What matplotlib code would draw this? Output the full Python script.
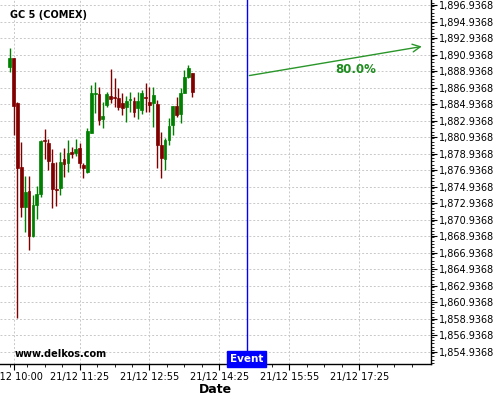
import numpy as np
import pandas as pd
import matplotlib
matplotlib.use('Agg')
from matplotlib import pyplot as plt
import matplotlib.dates as mdates
from matplotlib.ticker import FuncFormatter, MultipleLocator

# 5 minute candles, GC 5 (COMEX), 21/12
start = pd.Timestamp('2020-12-21 09:55')
opens  = [1889.47, 1890.49, 1885.04, 1877.36, 1872.52, 1874.42, 1869.01, 1872.73, 1874.02, 1880.54,
          1880.20, 1877.78, 1874.61, 1874.75, 1878.30, 1877.78, 1879.11, 1878.99, 1879.59, 1877.57,
          1876.76, 1881.48, 1886.19, 1886.16, 1883.10, 1884.83, 1885.92, 1885.84, 1885.64, 1885.11,
          1884.63, 1885.38, 1885.32, 1884.47, 1884.23, 1885.80, 1885.23, 1885.04, 1884.92, 1879.99,
          1878.26, 1880.60, 1882.41, 1884.71, 1883.74, 1886.32, 1888.26, 1888.67]
closes = [1890.49, 1884.75, 1877.17, 1872.52, 1874.30, 1869.01, 1872.73, 1874.06, 1880.48, 1880.42,
          1878.09, 1874.63, 1874.49, 1877.97, 1877.66, 1878.99, 1878.90, 1879.51, 1877.78, 1877.17,
          1881.72, 1886.25, 1886.29, 1883.02, 1883.50, 1886.16, 1885.52, 1885.64, 1884.63, 1884.51,
          1885.32, 1885.50, 1884.02, 1885.32, 1886.25, 1885.70, 1884.83, 1886.04, 1879.99, 1878.38,
          1880.60, 1882.29, 1884.71, 1883.62, 1886.32, 1888.19, 1889.27, 1886.44]
highs  = [1891.70, 1890.52, 1885.24, 1880.39, 1876.24, 1876.24, 1873.94, 1875.03, 1880.60, 1881.89,
          1880.66, 1879.47, 1877.97, 1879.18, 1879.59, 1880.60, 1879.71, 1880.68, 1880.20, 1877.78,
          1882.01, 1887.25, 1887.58, 1887.05, 1885.23, 1886.44, 1889.15, 1888.06, 1886.85, 1886.25,
          1885.92, 1886.37, 1885.84, 1886.44, 1886.65, 1887.46, 1887.05, 1887.05, 1885.44, 1881.60,
          1880.80, 1883.22, 1884.71, 1885.76, 1886.85, 1889.07, 1889.67, 1888.74]
lows   = [1888.79, 1881.20, 1859.05, 1871.31, 1869.50, 1867.28, 1868.89, 1871.03, 1873.73, 1878.26,
          1876.91, 1872.33, 1872.61, 1873.94, 1876.15, 1876.76, 1878.38, 1878.66, 1877.17, 1875.96,
          1876.64, 1881.41, 1883.90, 1882.41, 1882.01, 1884.63, 1885.04, 1884.63, 1884.23, 1883.62,
          1882.81, 1884.02, 1883.42, 1883.10, 1883.74, 1884.02, 1884.02, 1882.21, 1877.17, 1875.96,
          1876.97, 1879.99, 1881.20, 1883.42, 1882.62, 1886.25, 1888.06, 1885.84]

event_time = pd.Timestamp('2020-12-21 15:00')
arrow_start = (event_time, 1888.34)
arrow_end = (pd.Timestamp('2020-12-21 18:49'), 1891.97)
prob_text = '80.0%'
prob_pos = (pd.Timestamp('2020-12-21 17:21'), 1889.19)

times = pd.date_range(start, periods=len(opens), freq='5min')
x = mdates.date2num(times.to_pydatetime())
o = np.array(opens); c = np.array(closes)
up = c >= o
cols = np.where(up, '#008000', '#800000')

fig = plt.figure(figsize=(5, 4), dpi=100)
ax = fig.add_axes([0.0, 0.09, 0.862, 0.91])

w = 3.6 / 1440
ax.vlines(x, lows, highs, colors=cols, lw=1, zorder=3)
bot = np.minimum(o, c)
h = np.maximum(np.abs(c - o), 0.08)
ax.bar(x, h, bottom=bot, width=w, color=cols, edgecolor=cols, lw=0.5, zorder=4)

t0 = pd.Timestamp('2020-12-21 10:00')
ax.set_xlim(mdates.date2num(t0 - pd.Timedelta(minutes=17.4)),
            mdates.date2num(t0 + pd.Timedelta(minutes=537.3)))
ax.set_ylim(1853.485, 1897.542)

major_x = [t0] + list(pd.date_range('2020-12-21 11:25', periods=5, freq='90min'))
ax.set_xticks(mdates.date2num([t.to_pydatetime() for t in major_x]))
ax.xaxis.set_major_formatter(mdates.DateFormatter('%d/%m %H:%M'))
minor_x = pd.date_range('2020-12-21 09:55', periods=24, freq='22.5min')
ax.set_xticks(mdates.date2num(minor_x.to_pydatetime()), minor=True)

yt = 1854.9368 + 2 * np.arange(22)
ax.set_yticks(yt)
ax.yaxis.set_minor_locator(MultipleLocator(0.4))
ax.yaxis.set_major_formatter(FuncFormatter(lambda v, p: '{:,.4f}'.format(v)))
ax.yaxis.tick_right()

ax.tick_params(axis='both', which='major', labelsize=7, length=4, width=0.8, pad=1.5)
ax.tick_params(axis='both', which='minor', length=2, width=0.6)
ax.grid(True, which='major', color='#c8c8c8', linestyle=(0, (2, 2)), lw=0.7)
for s in ['left', 'top']:
    ax.spines[s].set_visible(False)
ax.spines['right'].set_linewidth(1)
ax.spines['bottom'].set_linewidth(1)

ax.set_xlabel('Date', fontsize=9, fontweight='bold', labelpad=1)

ev = mdates.date2num(event_time.to_pydatetime())
ax.axvline(ev, color='blue', lw=1, zorder=5)
ax.text(ev, 1853.485, 'Event', ha='center', va='bottom', color='white', fontsize=7.5,
        fontweight='bold', zorder=6,
        bbox=dict(boxstyle='square,pad=0.3', facecolor='blue', edgecolor='blue'))

ax.annotate('', xy=(mdates.date2num(arrow_end[0].to_pydatetime()), arrow_end[1]),
            xytext=(ev, arrow_start[1]),
            arrowprops=dict(arrowstyle='->', color='#2a962a', lw=1, mutation_scale=14))
ax.text(mdates.date2num(prob_pos[0].to_pydatetime()), prob_pos[1], prob_text, ha='center',
        va='center', color='#1e8c1e', fontsize=8.5, fontweight='bold')

fig.text(10 / 500, 1 - 15 / 400, 'GC 5 (COMEX)', fontsize=7, fontweight='bold', va='center')
fig.text(15 / 500, 1 - 354 / 400, 'www.delkos.com', fontsize=7, fontweight='bold', va='center')

fig.savefig('out.png')
